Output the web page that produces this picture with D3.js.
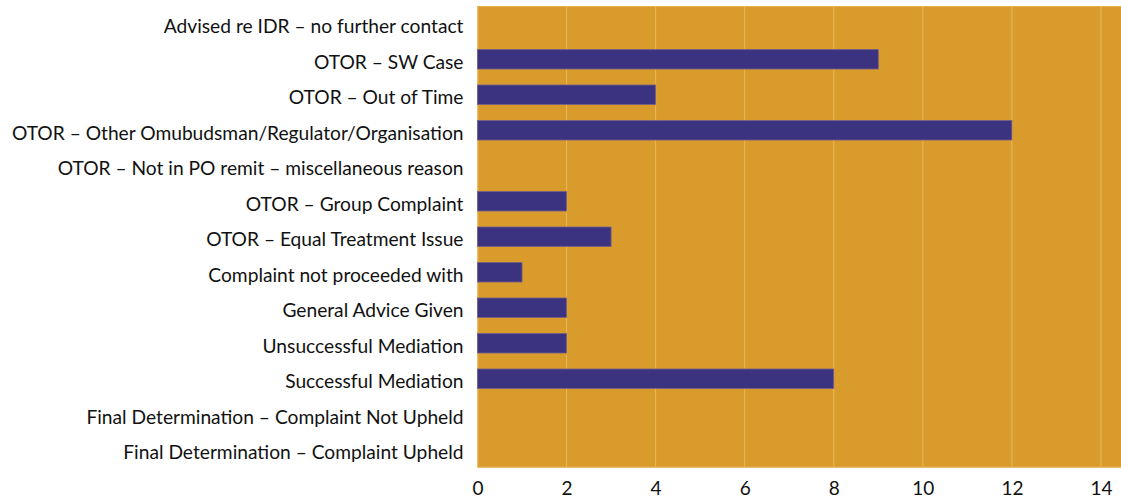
<!DOCTYPE html>
<html>
<head>
<meta charset="utf-8">
<script src="https://cdn.jsdelivr.net/npm/d3@7"></script>
<style>
  html, body { margin: 0; padding: 0; background: #ffffff; }
  svg { display: block; }
  text { font-family: Lato, "Open Sans", sans-serif; fill: #111; }
</style>
</head>
<body>
<svg id="chart" width="1121" height="502"></svg>
<script>
// Categories, top to bottom
const categories = [
  "Advised re IDR \u2013 no further contact",
  "OTOR \u2013 SW Case",
  "OTOR \u2013 Out of Time",
  "OTOR \u2013 Other Omubudsman/Regulator/Organisation",
  "OTOR \u2013 Not in PO remit \u2013 miscellaneous reason",
  "OTOR \u2013 Group Complaint",
  "OTOR \u2013 Equal Treatment Issue",
  "Complaint not proceeded with",
  "General Advice Given",
  "Unsuccessful Mediation",
  "Successful Mediation",
  "Final Determination \u2013 Complaint Not Upheld",
  "Final Determination \u2013 Complaint Upheld"
];
// Number of cases per category
const values = [0, 9, 4, 12, 0, 2, 3, 1, 2, 2, 8, 0, 0];
// Axis ticks
const xTicks = [0, 2, 4, 6, 8, 10, 12, 14];

const svg = d3.select("#chart");
const margin = { top: 6, right: 0, bottom: 34.5, left: 477.5 };
const width = 1121 - margin.left - margin.right;
const height = 502 - margin.top - margin.bottom;

const x = d3.scaleLinear().domain([0, 14.45]).range([0, width]);
const y = d3.scaleBand().domain(categories).range([0, height]).paddingInner(0.45).paddingOuter(0.225);

const g = svg.append("g").attr("transform", `translate(${margin.left},${margin.top})`);

// Plot background
g.append("rect")
  .attr("x", 0).attr("y", 0)
  .attr("width", width).attr("height", height)
  .attr("fill", "#D99C2C");

// Light edges along the top, left and bottom of the plot
g.append("line").attr("x1", 0).attr("x2", width).attr("y1", 0.5).attr("y2", 0.5)
  .attr("stroke", "#E4AE4E").attr("stroke-width", 1);
g.append("line").attr("x1", 0.5).attr("x2", 0.5).attr("y1", 0).attr("y2", height)
  .attr("stroke", "#E4AE4E").attr("stroke-width", 1);
g.append("line").attr("x1", 0).attr("x2", width).attr("y1", height - 0.5).attr("y2", height - 0.5)
  .attr("stroke", "#E4AE4E").attr("stroke-width", 1);

// Vertical gridlines
g.append("g")
  .selectAll("line")
  .data(xTicks.slice(1))
  .join("line")
  .attr("x1", d => x(d)).attr("x2", d => x(d))
  .attr("y1", 0).attr("y2", height)
  .attr("stroke", "#E9B75A")
  .attr("stroke-width", 1);

// Bars
g.append("g")
  .selectAll("rect")
  .data(categories.map((c, i) => ({ c, v: values[i] })).filter(d => d.v > 0))
  .join("rect")
  .attr("x", x(0))
  .attr("y", d => y(d.c))
  .attr("width", d => x(d.v) - x(0))
  .attr("height", y.bandwidth())
  .attr("fill", "#3B3380")
  .attr("stroke", "#76608A")
  .attr("stroke-width", 0.8);

// Category labels
const yAxis = d3.axisLeft(y).tickSize(0).tickPadding(14);
const yg = g.append("g").call(yAxis);
yg.select(".domain").remove();
yg.selectAll("text").style("font-size", "19.2px").attr("fill", "#111").attr("dy", "0.5em");

// Value axis
const xAxis = d3.axisBottom(x).tickValues(xTicks).tickSize(0).tickPadding(14);
const xg = g.append("g").attr("transform", `translate(0,${height})`).call(xAxis);
xg.select(".domain").remove();
xg.selectAll("text").style("font-size", "19px").attr("fill", "#111");
</script>
</body>
</html>
